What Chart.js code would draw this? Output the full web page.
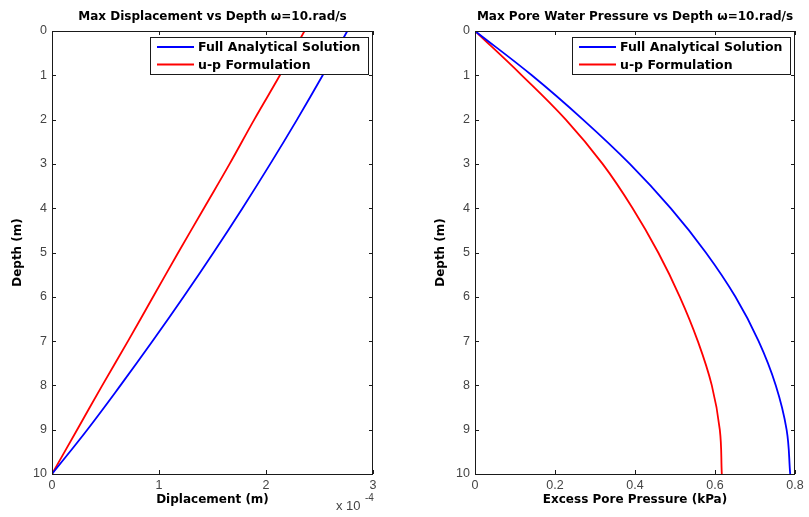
<!DOCTYPE html>
<html>
<head>
<meta charset="utf-8">
<script src="https://cdn.jsdelivr.net/npm/chart.js@4"></script>
<style>
  body { margin: 0; background: #fff; }
  canvas { position: absolute; left: 0; top: 0; }
</style>
</head>
<body>
<canvas id="left" width="809" height="517"></canvas>
<canvas id="right" width="809" height="517"></canvas>
<script>
// depth (m), shared by every curve
const depths = [0, 1, 2, 3, 4, 5, 6, 7, 8, 9, 10];

// max displacement (m)
const dispFull = [2.76e-4, 2.53e-4, 2.29e-4, 2.04e-4, 1.78e-4, 1.51e-4, 1.23e-4, 0.94e-4, 0.64e-4, 0.33e-4, 0];
const dispUp   = [2.36e-4, 2.13e-4, 1.89e-4, 1.66e-4, 1.42e-4, 1.18e-4, 0.945e-4, 0.71e-4, 0.47e-4, 0.235e-4, 0];

// max excess pore pressure (kPa)
const poreFull = [0, 0.142, 0.270, 0.387, 0.489, 0.577, 0.651, 0.709, 0.752, 0.779, 0.788];
const poreUp   = [0, 0.117, 0.227, 0.319, 0.394, 0.458, 0.512, 0.557, 0.592, 0.612, 0.617];

const seriesNames = ['Full Analytical Solution', 'u-p Formulation'];
const seriesColors = ['#0000ff', '#ff0000'];

const depthTicks = [0, 1, 2, 3, 4, 5, 6, 7, 8, 9, 10];
const dispTicks = [0, 1e-4, 2e-4, 3e-4];
const poreTicks = [0, 0.2, 0.4, 0.6, 0.8];

const FONT = "'Liberation Sans', Arial, Helvetica, sans-serif";
const BOLD = "'DejaVu Sans', Verdana, sans-serif";

function points(xs) {
  return xs.map((v, i) => ({ x: v, y: depths[i] }));
}

// MATLAB style box with inward ticks, title, labels and legend
const matlabAxes = {
  id: 'matlabAxes',
  afterDraw(chart, args, opts) {
    const ctx = chart.ctx;
    const a = chart.chartArea;
    const xs = chart.scales.x, ys = chart.scales.y;
    ctx.save();
    ctx.strokeStyle = '#1a1a1a';
    ctx.lineWidth = 1;
    ctx.strokeRect(a.left + 0.5, a.top + 0.5, a.right - a.left - 1, a.bottom - a.top);
    ctx.beginPath();
    const tl = 4;
    xs.ticks.forEach(t => {
      const px = Math.round(xs.getPixelForValue(t.value)) + 0.5;
      ctx.moveTo(px, a.bottom); ctx.lineTo(px, a.bottom - tl);
      ctx.moveTo(px, a.top); ctx.lineTo(px, a.top + tl);
    });
    ys.ticks.forEach(t => {
      const py = Math.round(ys.getPixelForValue(t.value)) + 0.5;
      ctx.moveTo(a.left, py); ctx.lineTo(a.left + tl, py);
      ctx.moveTo(a.right, py); ctx.lineTo(a.right - tl, py);
    });
    ctx.stroke();

    const cx = (a.left + a.right) / 2;
    ctx.fillStyle = '#000';
    ctx.font = 'bold 12px ' + BOLD;
    ctx.textAlign = 'center';
    ctx.textBaseline = 'middle';
    ctx.fillText(opts.title, cx, 17);
    ctx.fillText(opts.xTitle, cx, 500);
    ctx.save();
    ctx.translate(a.left - 34, (a.top + a.bottom) / 2);
    ctx.rotate(-Math.PI / 2);
    ctx.fillText('Depth (m)', 0, 0);
    ctx.restore();

    if (opts.exponent) {
      ctx.fillStyle = '#444';
      ctx.font = '13px ' + FONT;
      ctx.textAlign = 'left';
      ctx.fillText('x 10', a.right - 37, 506);
      ctx.font = '10px ' + FONT;
      ctx.fillText('-4', a.right - 8, 498);
    }

    // legend
    const lx = a.right - 223, ly = a.top + 6, lw = 218, lh = 37;
    ctx.fillStyle = '#fff';
    ctx.fillRect(lx, ly, lw, lh);
    ctx.strokeStyle = '#1a1a1a';
    ctx.strokeRect(lx + 0.5, ly + 0.5, lw, lh);
    ctx.font = 'bold 12.5px ' + BOLD;
    ctx.textAlign = 'left';
    chart.data.datasets.forEach((ds, i) => {
      const yy = ly + 10 + i * 17.5;
      ctx.strokeStyle = ds.borderColor;
      ctx.lineWidth = 2;
      ctx.beginPath();
      ctx.moveTo(lx + 7, yy); ctx.lineTo(lx + 44, yy);
      ctx.stroke();
      ctx.fillStyle = '#000';
      ctx.fillText(ds.label, lx + 48, yy + 1);
    });
    ctx.restore();
  }
};

function makeChart(id, full, up, xTicks, xFmt, pad, plugOpts) {
  return new Chart(document.getElementById(id), {
    type: 'line',
    data: {
      datasets: [
        { label: seriesNames[0], data: points(full), borderColor: seriesColors[0] },
        { label: seriesNames[1], data: points(up), borderColor: seriesColors[1] }
      ]
    },
    options: {
      responsive: false,
      animation: false,
      devicePixelRatio: 1,
      layout: { padding: pad },
      elements: {
        point: { radius: 0 },
        line: { borderWidth: 1.8, tension: 0.4, fill: false }
      },
      plugins: {
        legend: { display: false },
        tooltip: { enabled: false },
        matlabAxes: plugOpts
      },
      scales: {
        x: {
          type: 'linear',
          position: 'bottom',
          min: xTicks[0],
          max: xTicks[xTicks.length - 1],
          afterBuildTicks: s => { s.ticks = xTicks.map(v => ({ value: v })); },
          afterFit: s => { s.height = 43; },
          grid: { display: false, drawTicks: false },
          border: { display: false },
          ticks: {
            padding: 4,
            color: '#444',
            font: { family: FONT, size: 12.5 },
            callback: xFmt
          }
        },
        y: {
          type: 'linear',
          position: 'left',
          reverse: true,
          min: 0,
          max: 10,
          afterBuildTicks: s => { s.ticks = depthTicks.map(v => ({ value: v })); },
          afterFit: s => { s.width = 52; },
          grid: { display: false, drawTicks: false },
          border: { display: false },
          ticks: {
            padding: 5,
            color: '#444',
            font: { family: FONT, size: 12.5 }
          }
        }
      }
    },
    plugins: [matlabAxes]
  });
}

makeChart('left', dispFull, dispUp, dispTicks,
  v => String(Math.round(v * 1e4)),
  { left: 0, top: 31, right: 436, bottom: 0 },
  { title: 'Max Displacement vs Depth \u03c9=10.rad/s', xTitle: 'Diplacement (m)', exponent: true });

makeChart('right', poreFull, poreUp, poreTicks,
  v => (Math.round(v * 10) / 10).toString(),
  { left: 423, top: 31, right: 14, bottom: 0 },
  { title: 'Max Pore Water Pressure vs Depth \u03c9=10.rad/s', xTitle: 'Excess Pore Pressure (kPa)', exponent: false });
</script>
</body>
</html>
